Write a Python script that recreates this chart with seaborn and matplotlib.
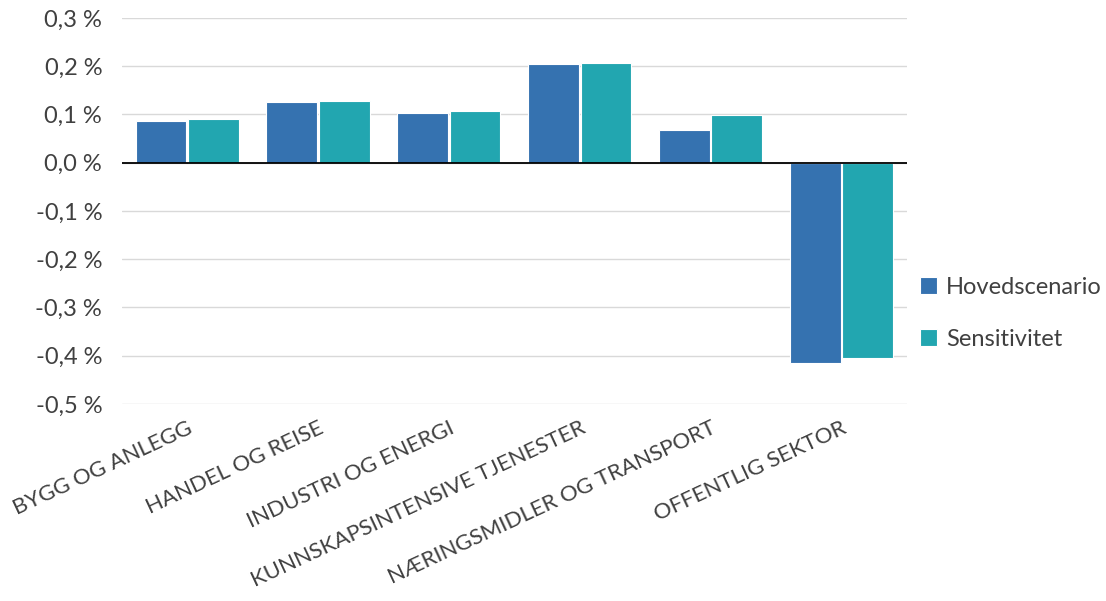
import pandas as pd
import matplotlib
matplotlib.use("Agg")
import matplotlib.pyplot as plt
import seaborn as sns
from matplotlib.ticker import FuncFormatter, MultipleLocator

# data
sectors = ["BYGG OG ANLEGG", "HANDEL OG REISE", "INDUSTRI OG ENERGI",
           "KUNNSKAPSINTENSIVE TJENESTER", "NÆRINGSMIDLER OG TRANSPORT",
           "OFFENTLIG SEKTOR"]
hoved = [0.087, 0.125, 0.103, 0.205, 0.067, -0.416]
sens = [0.091, 0.128, 0.107, 0.206, 0.099, -0.405]
series = ["Hovedscenario", "Sensitivitet"]

df = pd.DataFrame({
    "sektor": sectors * 2,
    "verdi": hoved + sens,
    "serie": [series[0]] * len(sectors) + [series[1]] * len(sectors),
})

sns.set_style("white")
plt.rcParams["font.family"] = ["Lato", "DejaVu Sans"]
text_col = "#404040"

fig, ax = plt.subplots(figsize=(11.06, 6.01), dpi=100)
fig.subplots_adjust(left=0.110, right=0.820, top=0.970, bottom=0.328)

sns.barplot(data=df, x="sektor", y="verdi", hue="serie",
            palette=["#3572B0", "#22A6B0"], saturation=1, width=0.8, gap=0.03,
            edgecolor="white", linewidth=0.8, ax=ax)

ax.set_ylim(-0.5, 0.3)
ax.yaxis.set_major_locator(MultipleLocator(0.1))
ax.yaxis.set_major_formatter(FuncFormatter(lambda v, p: f"{v:.1f} %".replace(".", ",")))
ax.grid(axis="y", color="#d9d9d9", linewidth=1)
ax.set_axisbelow(True)
ax.axhline(0, color="black", linewidth=1.3)
for s in ax.spines.values():
    s.set_visible(False)

ax.set_xlabel("")
ax.set_ylabel("")
ax.tick_params(axis="y", labelsize=17, labelcolor=text_col, length=0, pad=14)
ax.tick_params(axis="x", labelsize=16, labelcolor=text_col, length=0, pad=10)
plt.setp(ax.get_xticklabels(), rotation=25, ha="right", rotation_mode="anchor")

ax.legend(frameon=False, loc="center left", bbox_to_anchor=(0.99, 0.235),
          fontsize=17, labelcolor=text_col, handlelength=0.7, handleheight=0.7,
          handletextpad=0.4, labelspacing=1.3)

fig.savefig("out.png", dpi=100)
